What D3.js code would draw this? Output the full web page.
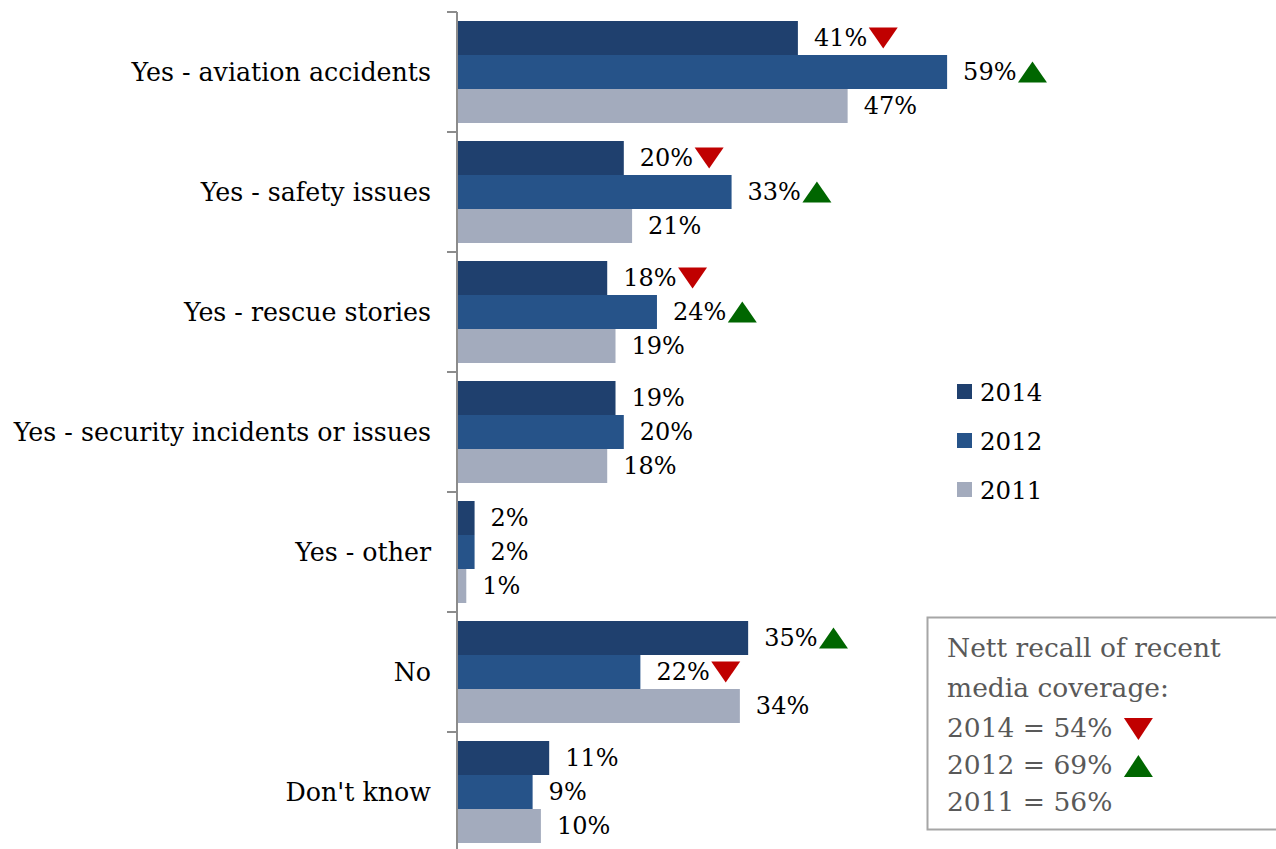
<!DOCTYPE html>
<html>
<head>
<meta charset="utf-8">
<script src="https://cdn.jsdelivr.net/npm/d3@7"></script>
<style>
  html, body { margin: 0; padding: 0; background: #fff; }
  svg { display: block; }
</style>
</head>
<body>
<svg id="chart" width="1276" height="849"></svg>
<script>
// Recall of recent media coverage, by type, per survey year
const categories = [
  "Yes - aviation accidents",
  "Yes - safety issues",
  "Yes - rescue stories",
  "Yes - security incidents or issues",
  "Yes - other",
  "No",
  "Don't know"
];
const seriesNames = ["2014", "2012", "2011"];
const values2014 = [41, 20, 18, 19, 2, 35, 11];
const values2012 = [59, 33, 24, 20, 2, 22, 9];
const values2011 = [47, 21, 19, 18, 1, 34, 10];
// Significant change markers versus the previous wave
const change2014 = ["down", "down", "down", null, null, "up", null];
const change2012 = ["up", "up", "up", null, null, "down", null];
const change2011 = [null, null, null, null, null, null, null];

const nettTitle = ["Nett recall of recent", "media coverage:"];
const nettYears = ["2014", "2012", "2011"];
const nettValues = [54, 69, 56];
const nettChange = ["down", "up", null];

const colors = { "2014": "#1f406e", "2012": "#265389", "2011": "#a3abbd" };
const arrowColor = { up: "#006600", down: "#c00000" };
const FONT = "'DejaVu Serif', 'Liberation Serif', serif";

const svg = d3.select("#chart");

const rows = categories.map((c, i) => ({
  category: c,
  bars: [
    { series: "2014", value: values2014[i], change: change2014[i] },
    { series: "2012", value: values2012[i], change: change2012[i] },
    { series: "2011", value: values2011[i], change: change2011[i] }
  ]
}));

const x = d3.scaleLinear().domain([0, 60]).range([458, 458 + 60 * 8.29]);
const y0 = d3.scaleBand().domain(categories).range([12, 12 + 120 * categories.length])
  .paddingInner(0.15).paddingOuter(0.075);
const y1 = d3.scaleBand().domain(seriesNames).range([0, y0.bandwidth()]);

// Category axis on the left
const axisG = svg.append("g").attr("transform", `translate(${x(0) - 1},0)`);
const outer = d3.scaleBand().domain(categories).range([12, 12 + 120 * categories.length]);
axisG.append("line")
  .attr("x1", 0).attr("x2", 0).attr("y1", 12).attr("y2", 860)
  .attr("stroke", "#8c8c8c").attr("stroke-width", 2);
axisG.selectAll("line.tick")
  .data(categories.map(c => outer(c)))
  .join("line").attr("class", "tick")
  .attr("x1", -10).attr("x2", 0)
  .attr("y1", d => d).attr("y2", d => d)
  .attr("stroke", "#8c8c8c").attr("stroke-width", 2);

svg.append("g").selectAll("text")
  .data(categories)
  .join("text")
  .attr("x", 431)
  .attr("y", d => outer(d) + outer.bandwidth() / 2)
  .attr("dy", "0.35em")
  .attr("text-anchor", "end")
  .attr("font-family", FONT)
  .attr("font-size", 25.3)
  .attr("fill", "#000")
  .text(d => d);

// Bars and value labels
const groups = svg.append("g").selectAll("g")
  .data(rows)
  .join("g")
  .attr("transform", d => `translate(0,${y0(d.category)})`);

groups.selectAll("rect")
  .data(d => d.bars)
  .join("rect")
  .attr("x", x(0))
  .attr("y", d => y1(d.series))
  .attr("width", d => x(d.value) - x(0))
  .attr("height", y1.bandwidth())
  .attr("fill", d => colors[d.series]);

function triangle(sel, dir, cx, cy, w, h) {
  const pts = dir === "down"
    ? [[cx - w / 2, cy - h / 2], [cx + w / 2, cy - h / 2], [cx, cy + h / 2]]
    : [[cx - w / 2, cy + h / 2], [cx + w / 2, cy + h / 2], [cx, cy - h / 2]];
  sel.append("path")
    .attr("d", d3.line()(pts) + "Z")
    .attr("fill", arrowColor[dir]);
}

groups.each(function (row) {
  const g = d3.select(this);
  row.bars.forEach(b => {
    const cy = y1(b.series) + y1.bandwidth() / 2;
    const t = g.append("text")
      .attr("x", x(b.value) + 16)
      .attr("y", cy)
      .attr("dy", "0.35em")
      .attr("font-family", FONT)
      .attr("font-size", 24)
      .attr("fill", "#000")
      .text(b.value + "%");
    if (b.change) {
      const end = x(b.value) + 16 + t.node().getComputedTextLength();
      triangle(g, b.change, end + 16, cy, 29, 21);
    }
  });
});

// Series legend
const legend = svg.append("g").attr("transform", "translate(957,392)");
seriesNames.forEach((s, i) => {
  const row = legend.append("g").attr("transform", `translate(0,${i * 49})`);
  row.append("rect").attr("x", 0).attr("y", -8).attr("width", 15).attr("height", 15)
    .attr("fill", colors[s]);
  row.append("text").attr("x", 23).attr("y", 0).attr("dy", "0.35em")
    .attr("font-family", FONT).attr("font-size", 24.5).attr("fill", "#000")
    .text(s);
});

// Nett recall summary box
const box = svg.append("g");
box.append("rect")
  .attr("x", 927.5).attr("y", 617.5).attr("width", 360).attr("height", 212)
  .attr("fill", "#fff").attr("stroke", "#a6a6a6").attr("stroke-width", 2);
const boxLines = nettTitle.map(t => ({ text: t, change: null }))
  .concat(nettYears.map((yr, i) => ({ text: `${yr} = ${nettValues[i]}%`, change: nettChange[i] })));
const lineY = [648, 688, 728, 765, 802];
boxLines.forEach((ln, i) => {
  const t = box.append("text")
    .attr("x", 947).attr("y", lineY[i]).attr("dy", "0.35em")
    .attr("font-family", FONT).attr("font-size", 26.5).attr("fill", "#595959")
    .text(ln.text);
  if (ln.change) {
    const end = 947 + t.node().getComputedTextLength();
    triangle(box, ln.change, end + 26, lineY[i] + 1, 29, 22);
  }
});
</script>
</body>
</html>
